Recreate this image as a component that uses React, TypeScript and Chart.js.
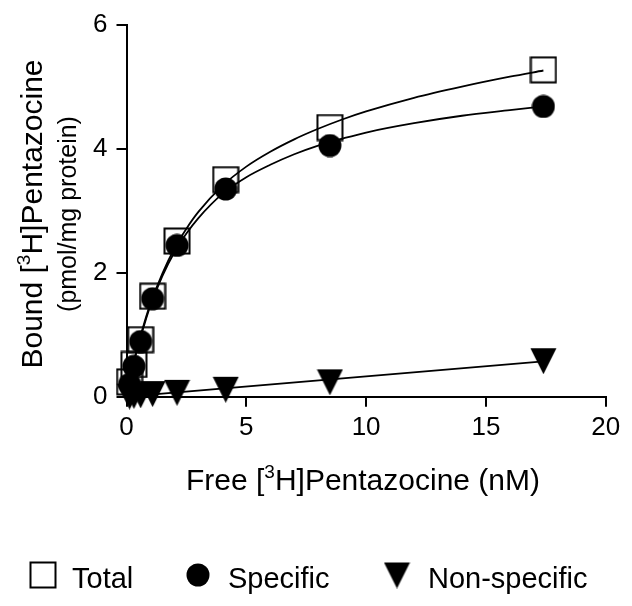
import React, { useEffect, useRef } from "react";
import { Chart, registerables } from "chart.js";

Chart.register(...registerables);

// ---- data ----
const freeNM = [0.13, 0.31, 0.59, 1.09, 2.11, 4.14, 8.49, 17.4];
const totalBound = [0.24, 0.52, 0.92, 1.62, 2.51, 3.5, 4.34, 5.27];
const specificBound = [0.2, 0.49, 0.89, 1.58, 2.44, 3.35, 4.05, 4.68];
const nonSpecificBound = [0.01, 0.02, 0.03, 0.05, 0.07, 0.12, 0.24, 0.58];

// fitted curves as traced on the picture
const fitFreeNM = [0.13, 0.25, 0.5, 0.75, 1, 1.5, 2, 2.5, 3, 4, 5, 6, 7, 8, 9, 10, 12, 14, 16, 17.4];
const totalFit = [0.25, 0.47, 0.86, 1.2, 1.5, 1.99, 2.39, 2.71, 2.98, 3.4, 3.71, 3.95, 4.15, 4.32, 4.47, 4.6, 4.82, 5.0, 5.16, 5.26];
const specificFit = [0.25, 0.46, 0.84, 1.17, 1.47, 1.95, 2.33, 2.63, 2.88, 3.27, 3.54, 3.74, 3.91, 4.05, 4.16, 4.26, 4.41, 4.53, 4.62, 4.68];
const nonSpecificFitFreeNM = [0.13, 17.4];
const nonSpecificFit = [0.005, 0.57];

const xTicks = [0, 5, 10, 15, 20];
const yTicks = [0, 2, 4, 6];
const seriesNames = ["Total", "Specific", "Non-specific"];

const FONT = '"Liberation Sans", Arial, Helvetica, sans-serif';

// legend layout (pixels)
const LEGEND_MARK_X = [43, 198, 397];
const LEGEND_TEXT_X = [72, 228, 428];
const LEGEND_MARK_Y = 575;
const LEGEND_TEXT_BASE = 588;

function makeSquare(): HTMLCanvasElement {
  const c = document.createElement("canvas");
  c.width = 28;
  c.height = 28;
  const g = c.getContext("2d")!;
  g.strokeStyle = "#000";
  g.lineWidth = 2;
  g.strokeRect(1.5, 1.5, 25, 25);
  return c;
}
function makeCircle(): HTMLCanvasElement {
  const c = document.createElement("canvas");
  c.width = 24;
  c.height = 24;
  const g = c.getContext("2d")!;
  g.fillStyle = "#000";
  g.beginPath();
  g.arc(12, 12, 11.5, 0, Math.PI * 2);
  g.fill();
  return c;
}
function makeTriangle(): HTMLCanvasElement {
  const c = document.createElement("canvas");
  c.width = 27;
  c.height = 27;
  const g = c.getContext("2d")!;
  g.fillStyle = "#000";
  g.beginPath();
  g.moveTo(0.5, 1);
  g.lineTo(26.5, 1);
  g.lineTo(13.5, 27);
  g.closePath();
  g.fill();
  return c;
}

type Part = { t: string; size: number; rise: number };
function drawRich(ctx: CanvasRenderingContext2D, parts: Part[], cx: number, by: number) {
  let w = 0;
  for (const p of parts) {
    ctx.font = `${p.size}px ${FONT}`;
    w += ctx.measureText(p.t).width;
  }
  let x = cx - w / 2;
  for (const p of parts) {
    ctx.font = `${p.size}px ${FONT}`;
    ctx.fillText(p.t, x, by - p.rise);
    x += ctx.measureText(p.t).width;
  }
}

const titlesPlugin = {
  id: "titles",
  afterDraw(chart: any) {
    const ctx: CanvasRenderingContext2D = chart.ctx;
    ctx.save();
    ctx.fillStyle = "#000";
    ctx.textAlign = "left";
    ctx.textBaseline = "alphabetic";
    // x title
    drawRich(
      ctx,
      [
        { t: "Free [", size: 30, rise: 0 },
        { t: "3", size: 19, rise: 12 },
        { t: "H]Pentazocine (nM)", size: 30, rise: 0 },
      ],
      363,
      490
    );
    // y title line 1
    ctx.save();
    ctx.translate(41.5, 214);
    ctx.rotate(-Math.PI / 2);
    drawRich(
      ctx,
      [
        { t: "Bound [", size: 30, rise: 0 },
        { t: "3", size: 19, rise: 12 },
        { t: "H]Pentazocine", size: 30, rise: 0 },
      ],
      0,
      0
    );
    ctx.restore();
    // y title line 2
    ctx.save();
    ctx.translate(75.5, 214);
    ctx.rotate(-Math.PI / 2);
    drawRich(ctx, [{ t: "(pmol/mg protein)", size: 25, rise: 0 }], 0, 0);
    ctx.restore();

    // legend, built from the three marker datasets
    for (let i = 0; i < 3; i++) {
      const ds = chart.data.datasets[i];
      const img = ds.pointStyle as HTMLCanvasElement;
      ctx.drawImage(img, LEGEND_MARK_X[i] - img.width / 2, LEGEND_MARK_Y - img.height / 2);
      ctx.font = `29px ${FONT}`;
      ctx.fillText(ds.label, LEGEND_TEXT_X[i], LEGEND_TEXT_BASE);
    }
    ctx.restore();
  },
};

export default function App() {
  const ref = useRef<HTMLCanvasElement>(null);
  useEffect(() => {
    document.body.style.margin = "0";
    const sq = makeSquare();
    const ci = makeCircle();
    const tr = makeTriangle();
    const pts = (xs: number[], ys: number[]) => xs.map((x, i) => ({ x, y: ys[i] }));
    const chart = new Chart(ref.current!, {
      type: "scatter",
      data: {
        datasets: [
          {
            label: seriesNames[0],
            data: pts(freeNM, totalBound),
            pointStyle: sq as any,
            pointRadius: 14,
            borderColor: "#000",
            backgroundColor: "rgba(0,0,0,0)",
            clip: false as any,
          },
          {
            label: seriesNames[1],
            data: pts(freeNM, specificBound),
            pointStyle: ci as any,
            pointRadius: 12,
            borderColor: "#000",
            backgroundColor: "#000",
            clip: false as any,
          },
          {
            label: seriesNames[2],
            data: pts(freeNM, nonSpecificBound),
            pointStyle: tr as any,
            pointRadius: 13,
            borderColor: "#000",
            backgroundColor: "#000",
            clip: false as any,
          },
          {
            label: "totalFit",
            data: pts(fitFreeNM, totalFit),
            showLine: true,
            pointRadius: 0,
            borderColor: "#000",
            borderWidth: 1.8,
            cubicInterpolationMode: "monotone",
          } as any,
          {
            label: "specificFit",
            data: pts(fitFreeNM, specificFit),
            showLine: true,
            pointRadius: 0,
            borderColor: "#000",
            borderWidth: 1.8,
            cubicInterpolationMode: "monotone",
          } as any,
          {
            label: "nonSpecificFit",
            data: pts(nonSpecificFitFreeNM, nonSpecificFit),
            showLine: true,
            pointRadius: 0,
            borderColor: "#000",
            borderWidth: 1.8,
          } as any,
        ],
      },
      options: {
        animation: false,
        responsive: false,
        events: [],
        layout: { padding: { top: 20.7, right: 26.3, left: 0, bottom: 0 } },
        plugins: {
          tooltip: { enabled: false },
          legend: { display: false },
        },
        scales: {
          x: {
            type: "linear",
            min: 0,
            max: 20,
            afterBuildTicks: (s: any) => {
              s.ticks = xTicks.map((v) => ({ value: v }));
            },
            afterFit: (s: any) => {
              s.height = 209.3;
            },
            grid: {
              display: true,
              drawOnChartArea: false,
              drawTicks: true,
              tickLength: 10,
              color: "#000",
              lineWidth: 2,
            },
            border: { display: true, color: "#000", width: 2 },
            ticks: { color: "#000", font: { family: FONT, size: 26 }, padding: 6, maxRotation: 0 },
          },
          y: {
            type: "linear",
            min: 0,
            max: 6,
            afterBuildTicks: (s: any) => {
              s.ticks = yTicks.map((v) => ({ value: v }));
            },
            afterFit: (s: any) => {
              s.width = 126.5;
            },
            grid: {
              display: true,
              drawOnChartArea: false,
              drawTicks: true,
              tickLength: 10,
              color: "#000",
              lineWidth: 2,
            },
            border: { display: true, color: "#000", width: 2 },
            ticks: { color: "#000", font: { family: FONT, size: 26 }, padding: 9 },
          },
        },
      },
      plugins: [titlesPlugin],
    });
    return () => chart.destroy();
  }, []);
  return <canvas ref={ref} width={632} height={606} style={{ display: "block" }} />;
}
